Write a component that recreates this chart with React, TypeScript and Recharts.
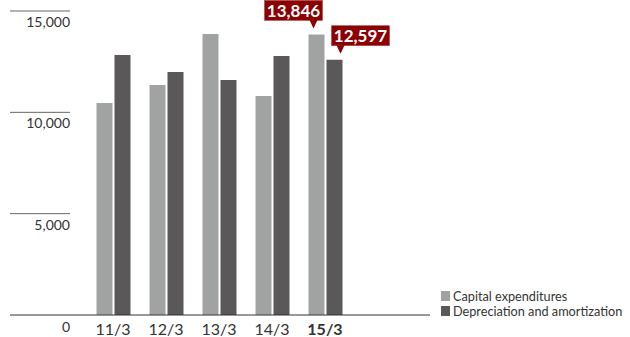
import React from "react";
import { BarChart, Bar, XAxis, YAxis, LabelList } from "recharts";

const years = ["11/3", "12/3", "13/3", "14/3", "15/3"];
const capex = [10460, 11350, 13860, 10800, 13846];
const depreciation = [12830, 11990, 11590, 12780, 12597];
const yTicks = [0, 5000, 10000, 15000];
const seriesNames = ["Capital expenditures", "Depreciation and amortization"];

const FONT = "Lato, 'Open Sans', sans-serif";
const LIGHT = "#a1a3a2";
const DARK = "#5a5859";
const CALLOUT = "#8b0000";

const data = years.map((year, i) => ({
  year,
  capex: capex[i],
  depreciation: depreciation[i],
}));

// short rule on the left with the value underneath
function YTick(props: any) {
  const { y, payload } = props;
  const isZero = payload.value === 0;
  return (
    <g>
      <line
        x1={10}
        x2={70}
        y1={y}
        y2={y}
        stroke={isZero ? "#333" : "#666"}
        strokeWidth={1}
      />
      <text
        x={70}
        y={y + (isZero ? 17 : 16)}
        textAnchor="end"
        fontSize={14}
        fontFamily={FONT}
        fill="#333"
      >
        {payload.value.toLocaleString("en-US")}
      </text>
    </g>
  );
}

function XTick(props: any) {
  const { x, y, payload, index } = props;
  const isLast = index === years.length - 1;
  return (
    <text
      x={x}
      y={y + 12}
      textAnchor="middle"
      fontSize={16}
      fontFamily={FONT}
      fontWeight={isLast ? 700 : 400}
      fill="#333"
    >
      {payload.value}
    </text>
  );
}

// red value box with a pointer, only on the latest year
function makeCallout(tipOffset: number, boxLeft: number) {
  return function Callout(props: any) {
    const { x, y, width, value, index } = props;
    if (index !== years.length - 1) return null;
    const tipX = x + width / 2 + tipOffset;
    const tipY = y - 6;
    const boxW = 58;
    const boxH = 20;
    const boxBottom = tipY - 8;
    const left = tipX - boxLeft;
    return (
      <g>
        <rect
          x={left}
          y={boxBottom - boxH}
          width={boxW}
          height={boxH}
          fill={CALLOUT}
          stroke="#a84a4a"
          strokeWidth={0.6}
        />
        <polygon
          points={`${tipX - 4},${boxBottom - 0.5} ${tipX + 4},${boxBottom - 0.5} ${tipX},${tipY}`}
          fill={CALLOUT}
        />
        <text
          x={left + boxW / 2}
          y={boxBottom - 3.5}
          textAnchor="middle"
          fontSize={17}
          fontWeight={700}
          fontFamily={FONT}
          fill="#fff"
        >
          {Number(value).toLocaleString("en-US")}
        </text>
      </g>
    );
  };
}

function LegendBox() {
  const colors = [LIGHT, DARK];
  return (
    <div
      style={{
        position: "absolute",
        left: 441,
        top: 288,
        fontFamily: FONT,
        fontSize: 12.7,
        color: "#333",
      }}
    >
      {seriesNames.map((name, i) => (
        <div
          key={name}
          style={{ display: "flex", alignItems: "center", height: 15, whiteSpace: "nowrap" }}
        >
          <span
            style={{
              display: "inline-block",
              width: 9,
              height: 10,
              background: colors[i],
              marginRight: 3,
            }}
          />
          {name}
        </div>
      ))}
    </div>
  );
}

export default function App() {
  return (
    <div
      style={{
        position: "absolute",
        left: 0,
        top: 0,
        width: 630,
        height: 337,
        background: "#fff",
      }}
    >
      <BarChart
        width={630}
        height={337}
        data={data}
        margin={{ top: 11, right: 200, bottom: 0, left: 10 }}
        barSize={16}
        barGap={2}
      >
        <YAxis
          width={60}
          domain={[0, 15000]}
          ticks={yTicks}
          axisLine={false}
          tickLine={false}
          tick={<YTick />}
          interval={0}
        />
        <XAxis
          dataKey="year"
          height={22}
          padding={{ left: 16.5, right: 78.5 }}
          axisLine={{ stroke: "#333", strokeWidth: 1 }}
          tickLine={false}
          tick={<XTick />}
          interval={0}
        />
        <Bar dataKey="capex" fill={LIGHT} isAnimationActive={false}>
          <LabelList dataKey="capex" content={makeCallout(-3, 49)} />
        </Bar>
        <Bar dataKey="depreciation" fill={DARK} isAnimationActive={false}>
          <LabelList dataKey="depreciation" content={makeCallout(6, 9)} />
        </Bar>
      </BarChart>
      <LegendBox />
    </div>
  );
}
